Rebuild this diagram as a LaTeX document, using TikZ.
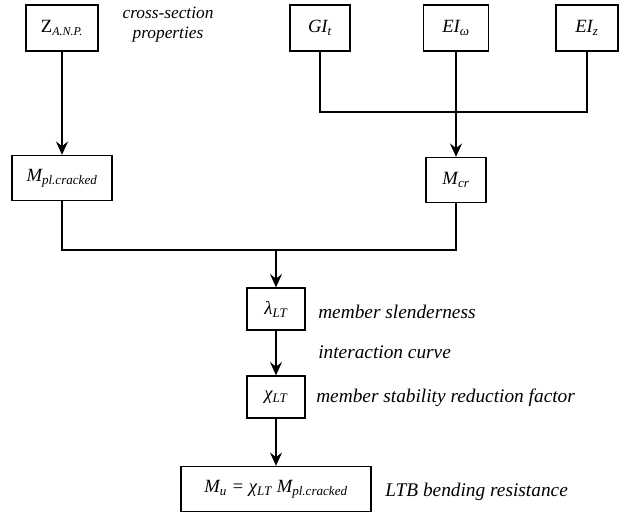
\documentclass[tikz,border=0pt]{standalone}
\usepackage{fontspec}
\setmainfont{Liberation Serif}
\usetikzlibrary{arrows.meta}
\begin{document}
\begin{tikzpicture}[x=0.75pt,y=-0.75pt,
  box/.style={draw,line width=1pt,inner sep=0pt,font=\fontsize{14}{16}\selectfont\itshape},
  lbl/.style={font=\fontsize{14.5}{16}\selectfont\itshape,inner sep=0pt},
  conn/.style={line width=1pt},
  arr/.style={line width=1pt,-{Stealth[length=10pt,width=9pt,inset=3.5pt]}}]
\useasboundingbox (0,0) rectangle (627,513);
% boxes
\node[box,minimum width=54pt,minimum height=34.5pt] (Z) at (62,28) {\upshape Z\textsubscript{\itshape\fontsize{9}{10}\selectfont A.N.P.}};
\node[box,minimum width=45pt,minimum height=34.5pt] (GI) at (320,28) {GI\textsubscript{t}};
\node[box,minimum width=48.75pt,minimum height=34.5pt] (EIw) at (456,28) {EI\textsubscript{ω}};
\node[box,minimum width=46.5pt,minimum height=34.5pt] (EIz) at (587,28) {EI\textsubscript{z}};
\node[box,minimum width=75pt,minimum height=33.75pt] (Mpl) at (62,178) {M\textsubscript{pl.cracked}};
\node[box,minimum width=45pt,minimum height=33.75pt] (Mcr) at (456,180) {M\textsubscript{cr}};
\node[box,minimum width=43.5pt,minimum height=31.5pt] (lam) at (276,309) {λ\textsubscript{LT}};
\node[box,minimum width=43.5pt,minimum height=31.5pt] (chi) at (276,397) {χ\textsubscript{LT}};
\node[box,minimum width=142.5pt,minimum height=33.75pt] (Mu) at (276,489) {M\textsubscript{u} = χ\textsubscript{LT} M\textsubscript{pl.cracked}};
% labels
\node[lbl,font=\fontsize{13}{15}\selectfont\itshape] (t1) at (168,13) {cross-section};
\node[lbl,font=\fontsize{13}{15}\selectfont\itshape] (t2) at (168,35) {properties};
\node[lbl,anchor=west] (t3) at (318,312) {member slenderness};
\node[lbl,anchor=west] (t4) at (318,352) {interaction curve};
\node[lbl,anchor=west] (t5) at (316,398) {member stability reduction factor};
\node[lbl,anchor=west] (t6) at (385,492) {LTB bending resistance};
% connectors
\coordinate (j1) at (456,112);
\coordinate (j2) at (276,250);
\draw[arr] (Z) -- (Mpl);
\draw[conn] (GI) |- (j1);
\draw[conn] (EIz) |- (j1);
\draw[arr] (EIw) -- (Mcr);
\draw[conn] (Mpl) |- (j2);
\draw[conn] (Mcr) |- (j2);
\draw[arr] (j2) -- (lam);
\draw[arr] (lam) -- (chi);
\draw[arr] (chi) -- (Mu);
\end{tikzpicture}
\end{document}
